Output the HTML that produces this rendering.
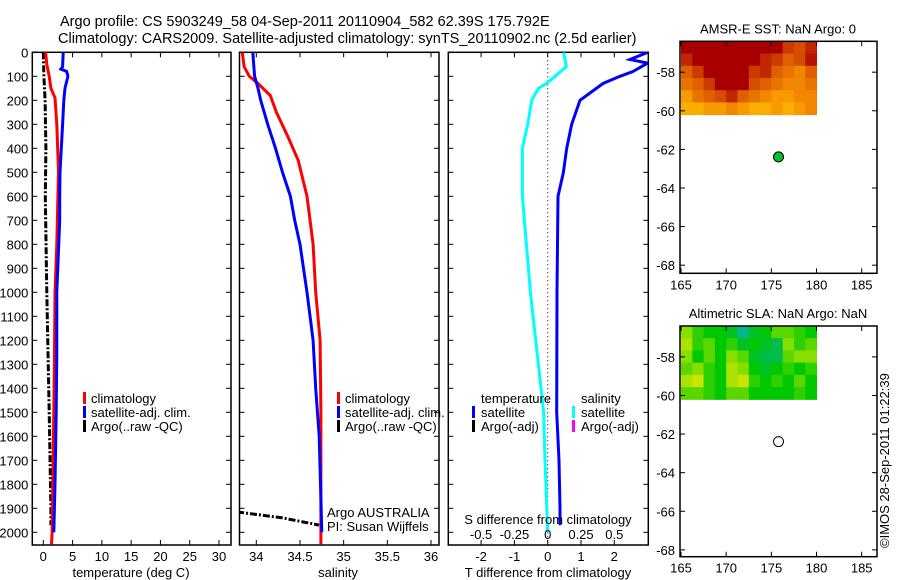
<!DOCTYPE html>
<html><head><meta charset="utf-8"><style>
body{margin:0;background:#fff}
svg{display:block;font-family:"Liberation Sans",sans-serif}
</style></head><body>
<svg id="c" width="900" height="580" viewBox="0 0 900 580">
<text x="60" y="26" font-size="14.5">Argo profile: CS 5903249_58 04-Sep-2011 20110904_582 62.39S 175.792E</text>
<text x="58" y="43" font-size="14.5">Climatology: CARS2009. Satellite-adjusted climatology: synTS_20110902.nc (2.5d earlier)</text>
<text transform="translate(889,548) rotate(-90)" font-size="13">©IMOS 28-Sep-2011 01:22:39</text>
</svg>
<script>
// ---- data ----
const depthTicks=[0,100,200,300,400,500,600,700,800,900,1000,1100,1200,1300,1400,1500,1600,1700,1800,1900,2000];
const tempTicks=[0,5,10,15,20,25,30];
const salTicks=[34,34.5,35,35.5,36];
const tdiffTicks=[-2,-1,0,1,2];
const sdiffTicks=[-0.5,-0.25,0,0.25,0.5];
const tempDepths=[0,50,100,150,190,300,500,600,800,1000,1300,1500,2000,2050];
const tempClim=[0.4,0.6,1.0,1.3,2.0,2.3,2.6,2.5,2.3,2.0,1.9,1.8,1.5,1.4];
const satDepths=[0,60,70,80,100,150,200,300,500,600,700,1000,1250,1500,1800,2000];
const tempSat=[3.4,3.3,3.0,4.0,4.2,3.7,3.5,3.3,2.85,2.8,2.8,2.3,2.3,2.2,2.0,1.8];
const argoDepths=[0,100,200,400,600,1000,1500,1900,1970];
const tempArgo=[0.0,0.1,0.3,0.45,0.35,0.6,1.0,1.3,1.3];
const salDepths=[0,60,100,130,180,250,350,450,600,800,1000,1200,1500,2050];
const salClim=[33.84,33.86,33.92,34.02,34.16,34.23,34.36,34.48,34.58,34.65,34.68,34.73,34.74,34.74];
const salSatDepths=[0,50,100,150,200,300,400,500,600,700,800,1000,1200,1400,1600,2000];
const salSat=[33.96,33.97,33.98,34.02,34.05,34.13,34.22,34.30,34.39,34.44,34.50,34.58,34.65,34.68,34.72,34.75];
const salArgoDepths=[1915,1940,1970];
const salArgo=[33.78,34.3,34.72];
const tdDepths=[0,30,45,80,100,130,200,300,400,500,600,1000,1500,1700,1900,1970];
const tDiff=[3.0,2.47,3.0,2.56,2.17,1.66,0.97,0.72,0.57,0.47,0.31,0.28,0.27,0.34,0.37,0.37];
const sdDepths=[0,60,100,130,150,200,300,400,600,1000,1500,1700,2000];
const sDiff=[0.12,0.14,0.055,-0.008,-0.07,-0.12,-0.15,-0.19,-0.19,-0.13,-0.03,-0.02,0];
const lonTicks=[165,170,175,180,185];
const latTicks=[-58,-60,-62,-64,-66,-68];
const argoLon=175.792, argoLat=-62.39;
const sstGrid=[
[0,0,0,0,0,0,0,0,0,.3,.4,.2],
[.2,0,0,0,0,0,0,.2,.3,.5,.4,.1],
[.5,.3,0,0,0,0,.3,.2,.5,.6,.7,.5],
[.6,.5,.3,0,0,0,.4,.5,.6,.7,.7,.6],
[.8,.6,.5,.4,.2,.5,.6,.7,.8,.8,.7,.7],
[.9,.9,.8,.8,.7,.8,.9,.9,.8,.9,.8,.7]];
const slaGrid=[
[.65,.55,.5,.5,.45,.3,.45,.5,.6,.6,.55,.5],
[.7,.55,.6,.5,.55,.45,.5,.45,.4,.65,.55,.6],
[.65,.5,.6,.5,.65,.6,.45,.4,.4,.6,.65,.65],
[.6,.65,.55,.5,.7,.65,.5,.45,.5,.55,.5,.55],
[.7,.75,.55,.5,.7,.75,.55,.5,.55,.5,.6,.5],
[.6,.6,.55,.5,.6,.6,.5,.5,.5,.5,.55,.5]];

const svg=document.getElementById('c');
const NS='http://www.w3.org/2000/svg';
function mk(tag,attrs,parent){const e=document.createElementNS(NS,tag);for(const k in attrs)e.setAttribute(k,attrs[k]);(parent||svg).appendChild(e);return e;}
function lin(d0,d1,r0,r1){return v=>r0+(v-d0)/(d1-d0)*(r1-r0);}
const yD=lin(0,2000,52.3,532.3);
const PT=52.3,PB=545;

function panel(name,x0,x1,xs,ticks,showLabels){
  const g=mk('g',{});
  
  
  mk('rect',{x:x0,y:PT,width:x1-x0,height:PB-PT,fill:'none',stroke:'#000','stroke-width':1.5},g);
  depthTicks.forEach(d=>{const y=yD(d);
    mk('line',{x1:x0,x2:x0+5,y1:y,y2:y,stroke:'#000'},g);
    mk('line',{x1:x1-5,x2:x1,y1:y,y2:y,stroke:'#000'},g);
    if(showLabels){const t=mk('text',{x:x0-4,y:y+5,'font-size':13,'text-anchor':'end'},g);t.textContent=d;
      }
  });
  ticks.forEach(v=>{const x=xs(v);
    mk('line',{x1:x,x2:x,y1:PT,y2:PT+5,stroke:'#000'},g);
    mk('line',{x1:x,x2:x,y1:PB-5,y2:PB,stroke:'#000'},g);
    const t=mk('text',{x:x,y:561,'font-size':13,'text-anchor':'middle'},g);t.textContent=v;
    
  });
  return g;
}
function line(g,xs,vals,depths,color,name,dash){
  const pts=vals.map((v,i)=>xs(v).toFixed(1)+','+yD(depths[i]).toFixed(1)).join(' ');
  const p=mk('polyline',{points:pts,fill:'none',stroke:color,'stroke-width':3,'stroke-dasharray':dash||'none'},g);
  
}
function txt(g,x,y,s,name,anchor,size){const t=mk('text',{x:x,y:y,'font-size':size||13,'text-anchor':anchor||'start'},g);t.textContent=s;
  return t;}
function legBar(g,x,y,color){mk('rect',{x:x,y:y-11,width:3,height:12,fill:color},g);}

const defs=mk('defs',{});
[['c1',32.3,231],['c2',239.5,439],['c3',448.3,648.3]].forEach(a=>{const cp=mk('clipPath',{id:a[0]},defs);mk('rect',{x:a[1],y:PT,width:a[2]-a[1],height:PB-PT},cp);});

// Panel 1 temperature
const xT=lin(0,30,43.3,219);
const g1=panel('temperature-panel',32.3,231,xT,tempTicks,true);
const l1=mk('g',{'clip-path':'url(#c1)'},g1);
line(l1,xT,tempArgo,argoDepths,'#000','argo-temperature-line','7,2,2,2');
line(l1,xT,tempClim,tempDepths,'#ff0000','climatology-temperature-line');
line(l1,xT,tempSat,satDepths,'#0000ff','satellite-temperature-line');
txt(g1,131,577,'temperature (deg C)','x-axis-title','middle');
legBar(g1,83,403,'#ff0000');txt(g1,91,403,'climatology','legend-climatology');
legBar(g1,83,417,'#0000ff');txt(g1,91,417,'satellite-adj. clim.','legend-satellite');
legBar(g1,83,431,'#000');txt(g1,91,431,'Argo(..raw -QC)','legend-argo');

// Panel 2 salinity
const xS=lin(34,36,256.3,431);
const g2=panel('salinity-panel',239.5,439,xS,salTicks,false);
const l2=mk('g',{'clip-path':'url(#c2)'},g2);
line(l2,xS,salArgo,salArgoDepths,'#000','argo-salinity-line','7,2,2,2');
line(l2,xS,salClim,salDepths,'#ff0000','climatology-salinity-line');
line(l2,xS,salSat,salSatDepths,'#0000ff','satellite-salinity-line');
txt(g2,338,577,'salinity','x-axis-title','middle');
legBar(g2,337,403,'#ff0000');txt(g2,345,403,'climatology','legend-climatology');
legBar(g2,337,417,'#0000ff');txt(g2,345,417,'satellite-adj. clim.','legend-satellite');
legBar(g2,337,431,'#000');txt(g2,345,431,'Argo(..raw -QC)','legend-argo');
txt(g2,327,517,'Argo AUSTRALIA','argo-institution');
txt(g2,327,531,'PI: Susan Wijffels','argo-pi');

// Panel 3 differences
const xTd=lin(0,1,547.7,581);
const xSd=lin(0,0.25,547.7,581);
const g3=panel('difference-panel',448.3,648.3,xTd,tdiffTicks,false);
mk('line',{x1:xTd(0),x2:xTd(0),y1:PT,y2:PB,stroke:'#000','stroke-dasharray':'1,3'},g3);
const l3=mk('g',{'clip-path':'url(#c3)'},g3);
line(l3,xTd,tDiff,tdDepths,'#0000ff','temperature-difference-line');
line(l3,xSd,sDiff,sdDepths,'#00ffff','salinity-difference-line');
txt(g3,548,577,'T difference from climatology','x-axis-title','middle');
txt(g3,548,524,'S difference from climatology','s-axis-title','middle');
sdiffTicks.forEach(v=>txt(g3,xSd(v),539,String(v),'s-tick-label','middle'));
txt(g3,481,403,'temperature','legend-temperature-header');
legBar(g3,472,417,'#0000ff');txt(g3,481,417,'satellite','legend-t-satellite');
legBar(g3,472,431,'#000');txt(g3,481,431,'Argo(-adj)','legend-t-argo');
txt(g3,581,403,'salinity','legend-salinity-header');
legBar(g3,572,417,'#00ffff');txt(g3,581,417,'satellite','legend-s-satellite');
legBar(g3,572,431,'#ff00ff');txt(g3,581,431,'Argo(-adj)','legend-s-argo');

// Maps
function ramp(st,v){const n=st.length-1;const t=Math.max(0,Math.min(1,v))*n;const i=Math.min(n-1,Math.floor(t));const f=t-i;
  return 'rgb('+st[i].map((c,k)=>Math.round(c+(st[i+1][k]-c)*f)).join(',')+')';}
function sstColor(v){return ramp([[168,0,0],[208,64,0],[240,128,0],[255,192,0]],v);}
function slaColor(v){return ramp([[0,80,255],[0,200,200],[0,180,120],[0,200,0],[150,225,0],[255,230,0],[255,160,0]],v);}
function map(name,title,top,bottom,latTop,latPerPx,grid,colorFn,dotFill){
  const g=mk('g',{});
  const xL=lin(165,185,681,861.7);
  const yL=v=>top+(latTop-v)*latPerPx;
  const lat0=latTop,lat1=-60.2,rows=grid.length,cols=grid[0].length;
  grid.forEach((row,r)=>row.forEach((v,c)=>{
    const x=xL(165+c*15/cols),y=yL(lat0-r*(lat0-lat1)/rows);
    const cell=mk('rect',{x:x,y:y,width:xL(165+(c+1)*15/cols)-x+0.5,height:yL(lat0-(r+1)*(lat0-lat1)/rows)-y+0.5,fill:colorFn(v)},g);
    
  }));
  mk('rect',{x:680,y:top,width:197,height:bottom-top,fill:'none',stroke:'#000','stroke-width':1.5},g);
  lonTicks.forEach(v=>{const x=xL(v);mk('line',{x1:x,x2:x,y1:top,y2:top+5,stroke:'#000'},g);mk('line',{x1:x,x2:x,y1:bottom-5,y2:bottom,stroke:'#000'},g);
    txt(g,x,bottom+16,String(v),'lon-tick-label','middle');});
  latTicks.forEach(v=>{const y=yL(v);mk('line',{x1:680,x2:685,y1:y,y2:y,stroke:'#000'},g);mk('line',{x1:872,x2:877,y1:y,y2:y,stroke:'#000'},g);
    txt(g,675,y+5,String(v),'lat-tick-label','end');});
  txt(g,778,top-8,title,'map-title','middle');
  const d=mk('circle',{cx:xL(argoLon),cy:yL(argoLat),r:5,fill:dotFill,stroke:'#000'},g);
  
}
map('sst-map','AMSR-E SST: NaN Argo: 0',41.3,273.3,-56.4,19.3,sstGrid,sstColor,'#00c030');
map('sla-map','Altimetric SLA: NaN Argo: NaN',326,556.7,-56.4,19.3,slaGrid,slaColor,'#fff');
</script>
</body></html>
